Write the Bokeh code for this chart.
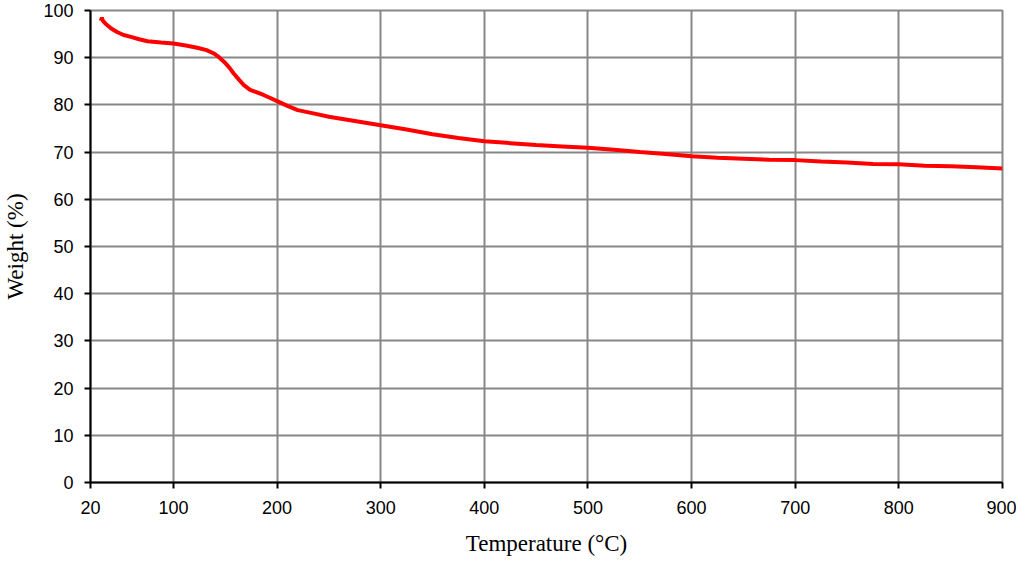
from bokeh.plotting import figure
from bokeh.models import Range1d, FixedTicker
from bokeh.embed import file_html
from bokeh.resources import INLINE

temperature = [30, 31, 32, 34.5, 40, 46, 52, 59, 67, 75, 88, 100, 112, 123, 132, 139, 144, 149,
               154, 158, 163, 168, 174, 180, 187, 194, 200, 210, 220, 235, 250, 275, 300, 325,
               350, 375, 400, 425, 450, 475, 500, 525, 550, 575, 600, 625, 650, 675, 700, 725,
               750, 775, 800, 825, 850, 875, 900]
weight = [97.8, 98.5, 97.8, 97.2, 96.2, 95.4, 94.8, 94.4, 93.9, 93.5, 93.2, 93.0, 92.6, 92.1,
          91.6, 90.9, 90.1, 89.1, 87.9, 86.7, 85.4, 84.2, 83.2, 82.7, 82.1, 81.4, 80.8, 79.8,
          78.9, 78.2, 77.5, 76.6, 75.7, 74.8, 73.8, 73.0, 72.3, 71.9, 71.5, 71.2, 70.9, 70.5,
          70.0, 69.6, 69.1, 68.8, 68.6, 68.4, 68.3, 68.0, 67.8, 67.5, 67.4, 67.1, 67.0, 66.8, 66.5]
x_ticks = [20, 100, 200, 300, 400, 500, 600, 700, 800, 900]
y_ticks = [0, 10, 20, 30, 40, 50, 60, 70, 80, 90, 100]

p = figure(width=1016, height=558, output_backend="svg", toolbar_location=None,
           x_range=Range1d(20, 900), y_range=Range1d(0, 100),
           min_border_left=90, min_border_right=14, min_border_top=10, min_border_bottom=73)

p.line(temperature, weight, line_color="#ff0000", line_width=4)

p.xaxis.ticker = FixedTicker(ticks=x_ticks)
p.yaxis.ticker = FixedTicker(ticks=y_ticks)
p.xaxis.minor_tick_line_color = None
p.yaxis.minor_tick_line_color = None

for ax in (p.xaxis, p.yaxis):
    ax.axis_line_color = "black"
    ax.axis_line_width = 2
    ax.major_tick_line_color = "black"
    ax.major_tick_line_width = 2
    ax.major_tick_out = 6
    ax.major_tick_in = 0
    ax.major_label_text_font = "Liberation Sans"
    ax.major_label_text_font_size = "18px"
    ax.major_label_text_color = "black"
    ax.axis_label_text_font = "Liberation Serif"
    ax.axis_label_text_font_size = "23px"
    ax.axis_label_text_font_style = "normal"
    ax.axis_label_text_color = "black"

p.xaxis.axis_label = "Temperature (°C)"
p.yaxis.axis_label = "Weight (%)"
p.xaxis.major_label_standoff = 12
p.yaxis.major_label_standoff = 11
p.xaxis.axis_label_standoff = 14
p.yaxis.axis_label_standoff = 12

p.xgrid.ticker = FixedTicker(ticks=x_ticks)
p.ygrid.ticker = FixedTicker(ticks=y_ticks)
p.grid.grid_line_color = "#878787"
p.grid.grid_line_width = 2
p.outline_line_color = "#878787"
p.outline_line_width = 2
p.background_fill_color = "white"
p.border_fill_color = "white"

open("out.html", "w").write(file_html(p, INLINE))
